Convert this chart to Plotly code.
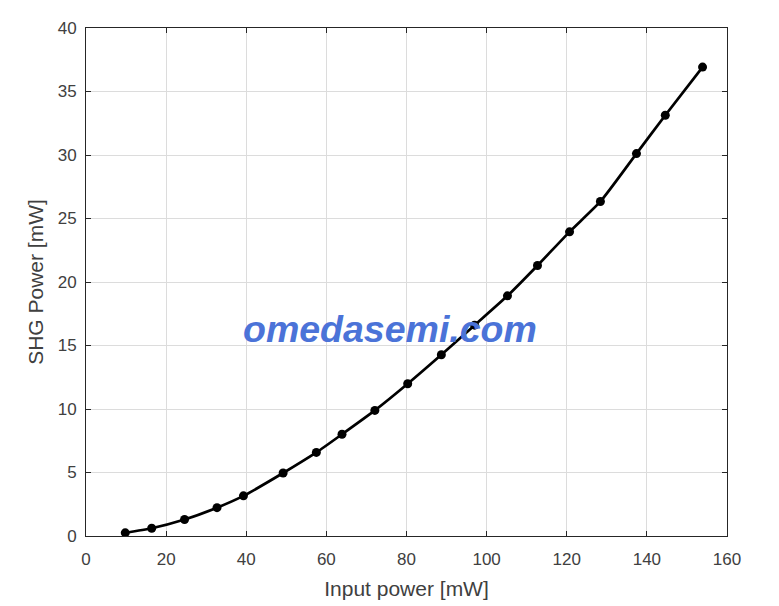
import plotly.graph_objects as go

input_power = [9.8, 16.4, 24.6, 32.7, 39.3, 49.2, 57.5, 63.9, 72.1, 80.3, 88.7,
               97.0, 105.2, 112.7, 120.7, 128.4, 137.4, 144.6, 153.9]
shg_power = [0.25, 0.61, 1.30, 2.23, 3.16, 4.96, 6.58, 8.01, 9.89, 11.99, 14.27,
             16.6, 18.91, 21.30, 23.95, 26.34, 30.11, 33.13, 36.92]

x_ticks = [0, 20, 40, 60, 80, 100, 120, 140, 160]
y_ticks = [0, 5, 10, 15, 20, 25, 30, 35, 40]

font_family = "Liberation Sans, Arial, sans-serif"
text_color = "#404040"

fig = go.Figure()
fig.add_trace(go.Scatter(
    x=input_power, y=shg_power, mode="lines+markers",
    line=dict(color="black", width=2.7, shape="spline", smoothing=0.6),
    marker=dict(color="black", size=9, symbol="circle"),
    showlegend=False,
))

axis_common = dict(
    showline=True, linecolor="#262626", linewidth=1, mirror="ticks",
    ticks="inside", ticklen=5, tickcolor="#262626",
    showgrid=True, gridcolor="#dcdcdc", gridwidth=1,
    zeroline=False, automargin=False,
    tickfont=dict(family=font_family, size=17, color=text_color),
)

fig.update_layout(
    width=779, height=606,
    margin=dict(l=86, r=52, t=28, b=70),
    paper_bgcolor="white", plot_bgcolor="white",
    font=dict(family=font_family, color=text_color),
    xaxis=dict(range=[0, 160], tickvals=x_ticks, ticklabelstandoff=8,
               title=dict(text="Input power [mW]", font=dict(size=21, color=text_color), standoff=12),
               **axis_common),
    yaxis=dict(range=[0, 40], tickvals=y_ticks, ticklabelstandoff=5,
               title=dict(text="SHG Power [mW]", font=dict(size=21, color=text_color), standoff=8),
               **axis_common),
)

fig.add_annotation(
    text="<b><i>omedasemi.com</i></b>", x=0.475, y=0.407, xref="paper", yref="paper",
    showarrow=False, font=dict(family=font_family, size=37.5, color="#4b73d8"),
)

fig.write_html("out.html")
